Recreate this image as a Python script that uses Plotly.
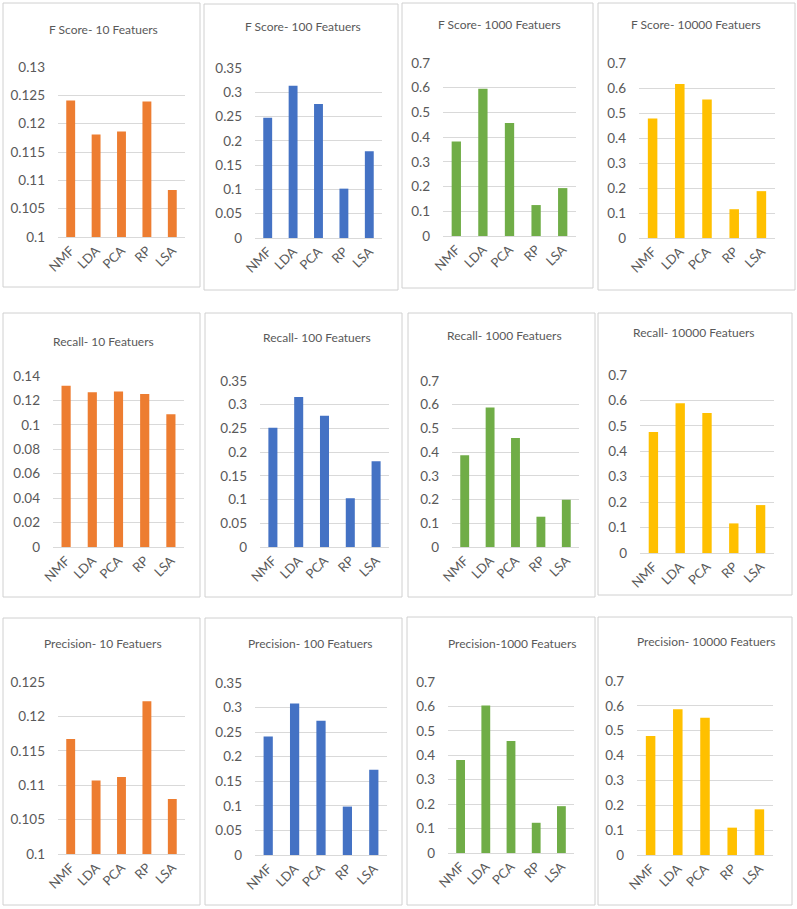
import plotly.graph_objects as go

# ----------------------------------------------------------------------------
# DATA
# ----------------------------------------------------------------------------
methods = ["NMF", "LDA", "PCA", "RP", "LSA"]

fscore_10 = [0.1241, 0.1181, 0.1186, 0.1239, 0.1083]
fscore_100 = [0.2475, 0.3136, 0.2759, 0.1016, 0.1784]
fscore_1000 = [0.3823, 0.5963, 0.4577, 0.1252, 0.1938]
fscore_10000 = [0.4778, 0.6157, 0.5540, 0.1151, 0.1874]

recall_10 = [0.1321, 0.1266, 0.1274, 0.1252, 0.1086]
recall_100 = [0.2514, 0.3162, 0.2768, 0.1028, 0.1810]
recall_1000 = [0.3872, 0.5878, 0.4601, 0.1277, 0.1992]
recall_10000 = [0.4763, 0.5888, 0.5508, 0.1164, 0.1884]

precision_10 = [0.1167, 0.1107, 0.1112, 0.1222, 0.1080]
precision_100 = [0.2413, 0.3085, 0.2732, 0.0985, 0.1733]
precision_1000 = [0.3806, 0.6035, 0.4580, 0.1237, 0.1917]
precision_10000 = [0.4787, 0.5860, 0.5525, 0.1100, 0.1837]

titles = [
    "F Score- 10 Featuers", "F Score- 100 Featuers",
    "F Score- 1000 Featuers", "F Score- 10000 Featuers",
    "Recall- 10 Featuers", "Recall- 100 Featuers",
    "Recall- 1000 Featuers", "Recall- 10000 Featuers",
    "Precision- 10 Featuers", "Precision- 100 Featuers",
    "Precision-1000 Featuers", "Precision- 10000 Featuers",
]
series = [
    fscore_10, fscore_100, fscore_1000, fscore_10000,
    recall_10, recall_100, recall_1000, recall_10000,
    precision_10, precision_100, precision_1000, precision_10000,
]
y_ranges = [
    (0.1, 0.13, 0.005), (0, 0.35, 0.05), (0, 0.7, 0.1), (0, 0.7, 0.1),
    (0, 0.14, 0.02), (0, 0.35, 0.05), (0, 0.7, 0.1), (0, 0.7, 0.1),
    (0.1, 0.125, 0.005), (0, 0.35, 0.05), (0, 0.7, 0.1), (0, 0.7, 0.1),
]

# ----------------------------------------------------------------------------
# LAYOUT (pixels)
# ----------------------------------------------------------------------------
W, H = 797, 909
COLORS = ["#ED7D31", "#4472C4", "#70AD47", "#FFC000"]
TEXT = "#595959"
GRID = "#D9D9D9"
BORDER = "#D0D0D0"

# box: x0, y0, x1, y1 ; plot: x0, x1, ytop, ybottom ; title: cx, cy
boxes = [
    (3, 3, 200, 287), (204, 4, 398, 290), (402, 3, 593, 288), (598, 3, 795, 290),
    (3, 313, 200, 597), (205, 313, 402, 597), (408, 313, 595, 597), (598, 313, 792, 595),
    (3, 618, 200, 905), (205, 618, 402, 905), (407, 617, 595, 905), (598, 617, 792, 905),
]
plots = [
    (58, 185, 67, 237), (255, 382, 68, 238), (443, 576, 63, 236), (639, 775, 63, 238),
    (53, 184, 376, 547), (260, 389, 381, 547), (452, 579, 381, 547), (640, 774, 375, 553),
    (58, 185, 682, 854), (255, 387, 683, 855), (448, 574, 682, 853), (637, 773, 681, 855),
]
title_pos = [
    (103, 30), (303, 26), (499, 25), (696, 25),
    (103, 341), (317, 337), (504, 335), (694, 332),
    (103, 643), (310, 643), (512, 643), (706, 641),
]


def px_x(v):
    return v / W


def px_y(v):
    return 1 - v / H


fig = go.Figure()
layout = {}
shapes = []
annotations = []

for i, (vals, title, (lo, hi, step)) in enumerate(zip(series, titles, y_ranges)):
    n = i + 1
    sfx = "" if n == 1 else str(n)
    col = COLORS[i % 4]

    fig.add_trace(go.Bar(
        x=methods, y=vals,
        marker=dict(color=col, line=dict(width=0)),
        xaxis="x" + sfx, yaxis="y" + sfx, showlegend=False,
    ))

    px0, px1, pyt, pyb = plots[i]
    layout["xaxis" + sfx] = dict(
        domain=[px_x(px0), px_x(px1)], anchor="y" + sfx,
        tickangle=-45, tickfont=dict(size=13, color=TEXT, family="Lato"),
        showline=True, linecolor=GRID, linewidth=1, showgrid=False,
        automargin=False, fixedrange=True,
    )
    layout["yaxis" + sfx] = dict(
        domain=[px_y(pyb), px_y(pyt)], anchor="x" + sfx,
        range=[lo, hi], dtick=step, tick0=0,
        tickfont=dict(size=13.5, color=TEXT, family="Lato"),
        gridcolor=GRID, gridwidth=1, zeroline=False, showline=False,
        ticklabelstandoff=12, automargin=False, fixedrange=True,
    )

    bx0, by0, bx1, by1 = boxes[i]
    shapes.append(dict(
        type="rect", xref="paper", yref="paper",
        x0=px_x(bx0), x1=px_x(bx1), y0=px_y(by1), y1=px_y(by0),
        line=dict(color=BORDER, width=1), fillcolor="white", layer="below",
    ))

    cx, cy = title_pos[i]
    annotations.append(dict(
        text=title, xref="paper", yref="paper",
        x=px_x(cx), y=px_y(cy), xanchor="center", yanchor="middle",
        showarrow=False, font=dict(size=12, color=TEXT, family="Lato"),
    ))

fig.update_layout(
    width=W, height=H,
    margin=dict(l=0, r=0, t=0, b=0, autoexpand=False),
    paper_bgcolor="white", plot_bgcolor="rgba(0,0,0,0)",
    bargap=0.65, shapes=shapes, annotations=annotations,
    **layout,
)

fig.write_html(
    "out.html",
    config={"displayModeBar": False},
    post_script="document.body.style.margin='0';",
)
